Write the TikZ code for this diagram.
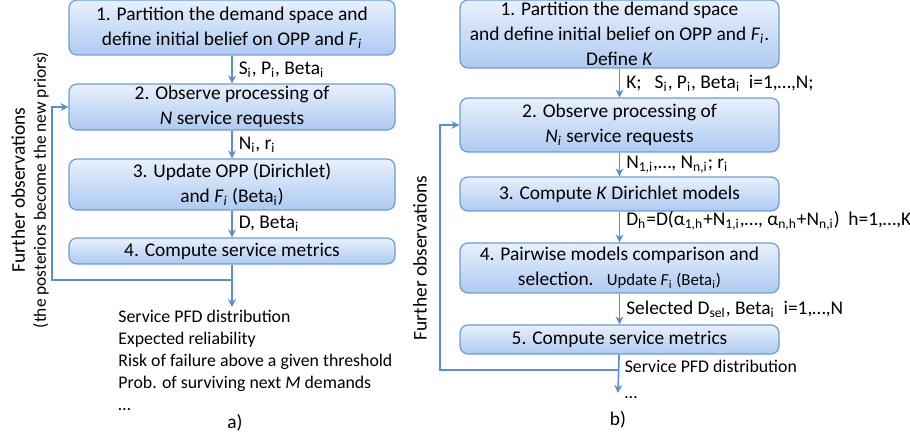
\documentclass[tikz,border=0pt]{standalone}
\usepackage{fontspec}
\setmainfont{Carlito}
\usepackage{xcolor}
\usepackage{tikz}
\usetikzlibrary{arrows.meta, positioning, calc}

\definecolor{boxtop}{HTML}{E8F0FC}
\definecolor{boxbot}{HTML}{AECAF1}
\definecolor{boxline}{HTML}{6F9BD4}
\definecolor{flow}{HTML}{5B8FC9}

\begin{document}
\begin{tikzpicture}[
    x=0.5pt, y=-0.5pt,
    font=\fontsize{9.7}{12.5}\selectfont,
    stepbox/.style={draw=boxline, line width=0.6pt, rounded corners=4pt, top color=boxtop, bottom color=boxbot, align=center, inner sep=1pt},
    boxa/.style={stepbox, minimum width=163pt},
    boxb/.style={stepbox, minimum width=159.5pt},
    arrow/.style={-{Stealth[length=4pt, width=4pt]}, draw=flow, line width=0.8pt},
    lbl/.style={right, inner sep=3pt},
    note/.style={align=left, inner sep=0pt, font=\fontsize{8.9}{11}\selectfont},
]

\useasboundingbox (0,0) rectangle (910,438);

% --- a) ---
\node[boxa, minimum height=27.5pt] (a1) at (232,27.5) {1. Partition the demand space and\\define initial belief on OPP and \textit{F}\textsubscript{\textit{i}}};
\node[boxa, minimum height=23pt] (a2) at (232,107) {2. Observe processing of\\\textit{N} service requests};
\node[boxa, minimum height=25.5pt] (a3) at (232,184.5) {3. Update OPP (Dirichlet)\\and \textit{F}\textsubscript{\textit{i}} (Beta\textsubscript{i})};
\node[boxa, minimum height=13pt] (a4) at (232,251) {4. Compute service metrics};

\coordinate (aback) at (232,280);
\coordinate (aout) at (232,307);

\node[note, anchor=north west] (alist) at (118,310) {Service PFD distribution\\Expected reliability\\Risk of failure above a given threshold\\Prob. of surviving next \textit{M} demands\\…};
\node (acap) at (235,423) {a)};
\node[rotate=90, align=center, font=\fontsize{9.7}{10.5}\selectfont] (afurther) at (30,190) {Further observations\\{\fontsize{8.7}{10.5}\selectfont (the posteriors become the new priors)}};

\draw[arrow] (a1) -- node[lbl] {S\textsubscript{i}, P\textsubscript{i}, Beta\textsubscript{i}} (a2);
\draw[arrow] (a2) -- node[lbl] {N\textsubscript{i}, r\textsubscript{i}} (a3);
\draw[arrow] (a3) -- node[lbl] {D, Beta\textsubscript{i}} (a4);
\draw[arrow] (a4) -- (aout);
\draw[arrow] (aback) -- ++(-180,0) |- (a2.west);

% --- b) ---
\node[boxb, minimum height=34pt] (b1) at (619.5,34) {1. Partition the demand space\\and define initial belief on OPP and \textit{F}\textsubscript{\textit{i}}.\\Define \textit{K}};
\node[boxb, minimum height=27pt] (b2) at (619.5,125) {2. Observe processing of\\\textit{N}\textsubscript{\textit{i}} service requests};
\node[boxb, minimum height=17pt] (b3) at (619.5,194) {3. Compute \textit{K} Dirichlet models};
\node[boxb, minimum height=25pt] (b4) at (619.5,268) {4. Pairwise models comparison and\\selection.\ \ \ {\fontsize{8.4}{10}\selectfont Update \textit{F}\textsubscript{i} (Beta\textsubscript{i})}};
\node[boxb, minimum height=14.5pt] (b5) at (619.5,339.5) {5. Compute service metrics};

\coordinate (bback) at (618,370);
\coordinate (bout) at (618,393);

\node (bcap) at (618,420) {b)};
\node[rotate=90] (bfurther) at (420,258) {Further observations};

\draw[arrow] (b1) -- node[lbl] {K;\ \ \ S\textsubscript{i}, P\textsubscript{i}, Beta\textsubscript{i}\ \ i=1,…,N;} (b2);
\draw[arrow] (b2) -- node[lbl] {N\textsubscript{1,i},…, N\textsubscript{n,i}; r\textsubscript{i}} (b3);
\draw[arrow] (b3) -- node[lbl, yshift=3pt] {D\textsubscript{h}=D(α\textsubscript{1,h}+N\textsubscript{1,i},…, α\textsubscript{n,h}+N\textsubscript{n,i})\ \ h=1,…,K} (b4);
\draw[arrow] (b4) -- node[lbl] {Selected D\textsubscript{sel}, Beta\textsubscript{i}\ \ i=1,…,N} (b5);
\draw[arrow] (b5) -- (bout) node[note, anchor=west, xshift=3pt, yshift=7pt, font=\fontsize{8.9}{13}\selectfont] (bout-txt) {Service PFD distribution\\…};
\draw[arrow] (bback) -- ++(-178,0) |- (b2.west);

\end{tikzpicture}
\end{document}
